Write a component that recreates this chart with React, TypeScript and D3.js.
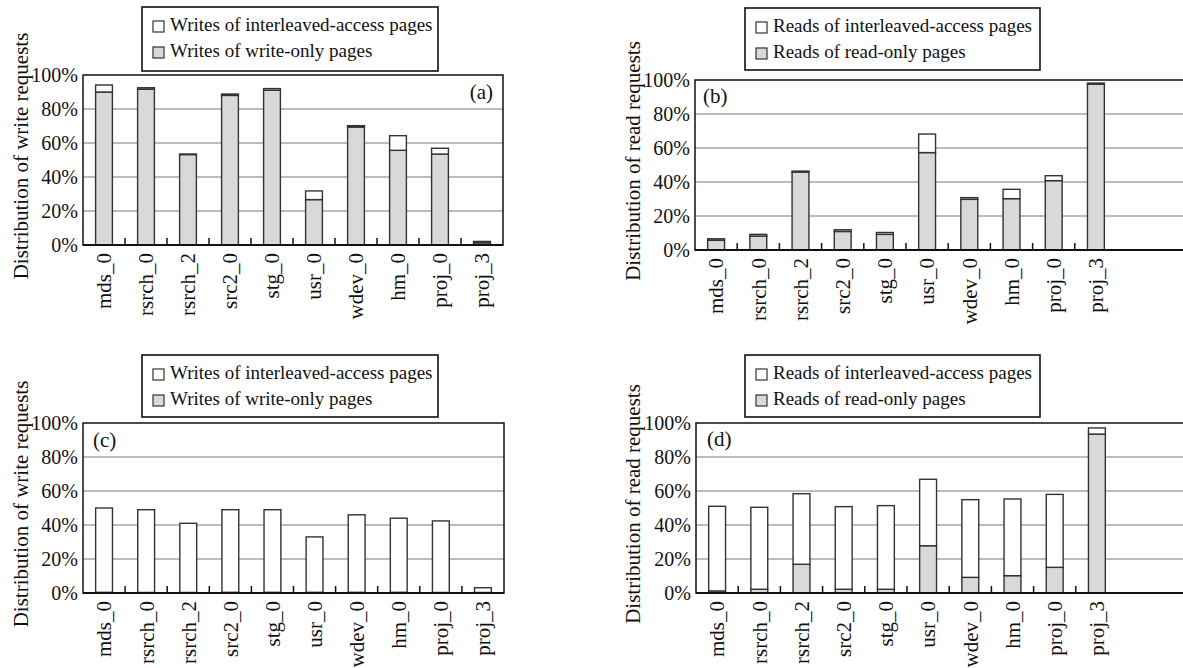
import React from "react";
import * as d3 from "d3";

const categories = ["mds_0", "rsrch_0", "rsrch_2", "src2_0", "stg_0", "usr_0", "wdev_0", "hm_0", "proj_0", "proj_3"];
const yTicks = [0, 20, 40, 60, 80, 100];

// (a) writes
const writeOnlyA = [90, 91.6, 53.2, 88, 91, 26.7, 69.4, 55.7, 53.5, 1.3];
const interleavedA = [4.1, 0.9, 0.3, 0.8, 1.0, 5.1, 0.8, 8.6, 3.4, 0.8];
// (b) reads
const readOnlyB = [5.7, 8.2, 45.8, 10.9, 9.2, 57.3, 29.8, 30.2, 40.8, 97.5];
const interleavedB = [0.9, 1.0, 0.6, 1.0, 1.1, 10.9, 1.0, 5.5, 2.9, 0.7];
// (c) writes
const writeOnlyC = [0.4, 0.3, 0.3, 0.4, 0.4, 0.4, 0.4, 0.4, 0.3, 0.3];
const interleavedC = [49.6, 48.7, 40.7, 48.6, 48.6, 32.6, 45.6, 43.6, 42.1, 2.8];
// (d) reads
const readOnlyD = [1.2, 2.2, 16.9, 2.2, 2.2, 27.8, 9.2, 10.2, 15.1, 93.5];
const interleavedD = [49.8, 48.2, 41.5, 48.6, 49.2, 39.1, 45.7, 45.1, 42.9, 3.6];

const writeLegend = ["Writes of interleaved-access pages", "Writes of write-only pages"];
const readLegend = ["Reads of interleaved-access pages", "Reads of read-only pages"];
const writeTitle = "Distribution of write requests";
const readTitle = "Distribution of read requests";

const FONT = "Liberation Serif, Times New Roman, Times, DejaVu Serif, serif";
const GRAY = "#d9d9d9";
const OUT = "#333";
const GRID = "#a6a6a6";

const panels = [
  { tag: "(a)", only: writeOnlyA, inter: interleavedA, legend: writeLegend, title: writeTitle,
    x0: 83, bandW: 420, right: 503, top: 75, bottom: 245, titleX: 28,
    lg: { x: 142, y: 7, w: 296, h: 64 }, tagX: 493, tagY: 99, tagAnchor: "end" },
  { tag: "(b)", only: readOnlyB, inter: interleavedB, legend: readLegend, title: readTitle,
    x0: 695, bandW: 422, right: 1220, top: 80, bottom: 250, titleX: 640,
    lg: { x: 745, y: 8, w: 295, h: 62 }, tagX: 703, tagY: 103, tagAnchor: "start" },
  { tag: "(c)", only: writeOnlyC, inter: interleavedC, legend: writeLegend, title: writeTitle,
    x0: 83, bandW: 421, right: 504, top: 423, bottom: 593, titleX: 28,
    lg: { x: 142, y: 355, w: 296, h: 62 }, tagX: 93, tagY: 447, tagAnchor: "start" },
  { tag: "(d)", only: readOnlyD, inter: interleavedD, legend: readLegend, title: readTitle,
    x0: 696, bandW: 422, right: 1220, top: 423, bottom: 593, titleX: 640,
    lg: { x: 745, y: 355, w: 295, h: 62 }, tagX: 707, tagY: 446, tagAnchor: "start" },
];

const txt = (size: number) => ({ fontFamily: FONT, fontSize: size + "px", fill: "#111" });

function Panel({ p }: { p: any }) {
  const x = d3.scaleBand<string>().domain(categories).range([p.x0, p.x0 + p.bandW]).paddingInner(0.6).paddingOuter(0.3);
  const y = d3.scaleLinear().domain([0, 100]).range([p.bottom, p.top]);
  const rows = categories.map((c, i) => ({ cat: c, only: p.only[i], inter: p.inter[i] }));
  const stack = d3.stack<any>().keys(["only", "inter"])(rows);
  const step = x.step();
  const bw = x.bandwidth();
  const titleY = (p.top + p.bottom) / 2 - 4;
  return (
    <g>
      {yTicks.filter((t) => t > 0 && t < 100).map((t) => (
        <line key={"g" + t} x1={p.x0} x2={p.right} y1={y(t)} y2={y(t)} stroke={GRID} strokeWidth={1.6} />
      ))}
      <rect x={p.x0} y={p.top} width={p.right - p.x0} height={p.bottom - p.top} fill="none" stroke="#111" strokeWidth={1.5} />
      {categories.slice(0, -1).map((c) => {
        const tx = (x(c) as number) + bw + (step - bw) / 2;
        return <line key={"t" + c} x1={tx} x2={tx} y1={p.bottom} y2={p.bottom - 7} stroke="#111" strokeWidth={1.5} />;
      })}
      {stack.map((s, si) =>
        s.map((d: any) => (
          <rect key={si + d.data.cat} x={x(d.data.cat)} y={y(d[1])} width={bw} height={Math.max(0, y(d[0]) - y(d[1]))}
            fill={si === 0 ? GRAY : "#fff"} stroke={OUT} strokeWidth={1.4} />
        ))
      )}
      <line x1={p.x0} x2={p.right} y1={p.bottom} y2={p.bottom} stroke="#111" strokeWidth={1.8} />
      {yTicks.map((t) => (
        <text key={"yl" + t} x={p.x0 - 5} y={y(t)} dy="0.35em" textAnchor="end" style={txt(20)}>{t}%</text>
      ))}
      {categories.map((c) => (
        <text key={"xl" + c} transform={`translate(${(x(c) as number) + bw / 2},${p.bottom + 8}) rotate(-90)`}
          dy="0.35em" textAnchor="end" style={txt(21)}>{c}</text>
      ))}
      <text transform={`translate(${p.titleX},${titleY}) rotate(-90)`} textAnchor="middle" style={txt(21)}>{p.title}</text>
      <text x={p.tagX} y={p.tagY} textAnchor={p.tagAnchor} style={txt(21)}>{p.tag}</text>
      <rect x={p.lg.x} y={p.lg.y} width={p.lg.w} height={p.lg.h} fill="#fff" stroke="#111" strokeWidth={1.6} />
      {p.legend.map((l: string, i: number) => (
        <g key={l}>
          <rect x={p.lg.x + 11} y={p.lg.y + 14 + i * 26} width={11} height={11} fill={i === 0 ? "#fff" : GRAY} stroke={OUT} strokeWidth={1.2} />
          <text x={p.lg.x + 28} y={p.lg.y + 24 + i * 26} style={txt(19)}>{l}</text>
        </g>
      ))}
    </g>
  );
}

export default function App() {
  return (
    <svg width={1183} height={668} style={{ position: "absolute", left: 0, top: 0, background: "#fff" }}>
      <rect width={1183} height={668} fill="#fff" />
      {panels.map((p) => <Panel key={p.tag} p={p} />)}
    </svg>
  );
}
